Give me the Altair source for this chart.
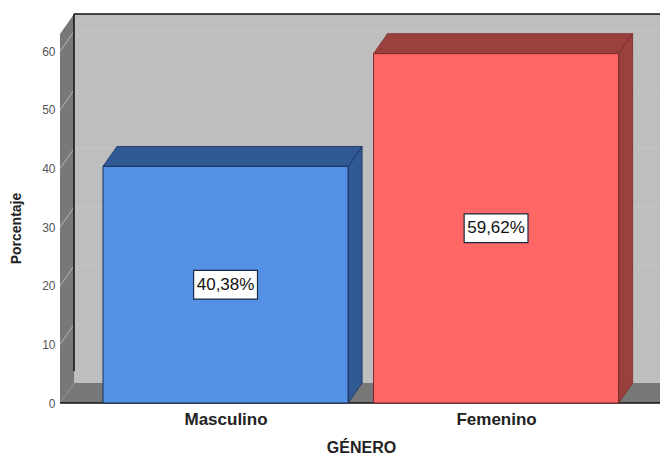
import altair as alt
import pandas as pd

categories = ["Masculino", "Femenino"]
values = [40.38, 59.62]
labels = ["40,38%", "59,62%"]
y_ticks = [0, 10, 20, 30, 40, 50, 60]

# chart geometry in data units: one x unit = one category step
X0, X1 = -0.612, 1.606
Y1 = 66.38
HALF = 0.453
DX, DY = 0.0518, 3.4
BOX_W, BOX_H = 0.118, 2.45

front = ["#5490E3", "#FF6666"]
side = ["#315A94", "#9A4140"]
edge = ["#17305A", "#7A2A2A"]

xs = alt.Scale(domain=[X0, X1], nice=False, zero=False)
ys = alt.Scale(domain=[0, Y1], nice=False, zero=False)

label_expr = f"datum.value == 0 ? '{categories[0]}' : '{categories[1]}'"
x_axis = alt.Axis(title="GÉNERO", values=[0, 1], labelExpr=label_expr, grid=False, domain=False, ticks=False,
                  labelFont="Liberation Sans", labelFontWeight="bold", labelFontSize=17,
                  labelColor="#222222", labelPadding=8,
                  titleFont="Liberation Sans", titleFontWeight="bold", titleFontSize=16,
                  titleColor="#222222", titlePadding=12, titleX=301)
y_axis = alt.Axis(title="Porcentaje", values=y_ticks, grid=False, domain=False, ticks=False,
                  labelFont="Liberation Sans", labelFontSize=12, labelColor="#555555", labelPadding=5,
                  titleFont="Liberation Sans", titleFontWeight="bold", titleFontSize=14,
                  titleColor="#222222", titlePadding=18, titleY=214)

X = lambda f: alt.X(f, type="quantitative", scale=xs, axis=x_axis)
Y = lambda f: alt.Y(f, type="quantitative", scale=ys, axis=y_axis)

wall = alt.Chart(pd.DataFrame({"x": [X0 + DX], "x2": [X1 + DX], "y": [DY], "y2": [Y1]})).mark_rect(
    color="#BEBEBE", clip=True
).encode(x=X("x"), x2="x2:Q", y=Y("y"), y2="y2:Q")

grid_back = alt.Chart(pd.DataFrame({"v": [t + DY for t in y_ticks[1:]], "a": [X0 + DX] * 6, "b": [X1 + DX] * 6})).mark_rule(
    color="#C5C5C5", strokeWidth=1, clip=True
).encode(x=X("a"), x2="b:Q", y=Y("v"))

left_wall = alt.Chart(pd.DataFrame({"x": [X0, X0 + DX], "y": [0, DY], "y2": [Y1 - DY, Y1]})).mark_area(
    color="#787878", clip=True
).encode(x=X("x"), y=Y("y"), y2="y2:Q")

floor = alt.Chart(pd.DataFrame({"y": [0, DY], "x": [X0, X0 + DX], "x2": [X1 + DX, X1 + 2 * DX]})).mark_area(
    color="#787878", orient="horizontal", clip=True
).encode(y=Y("y"), x=X("x"), x2="x2:Q")

grid_rows = []
for t in y_ticks[1:]:
    grid_rows += [{"t": t, "x": X0, "y": t}, {"t": t, "x": X0 + DX, "y": t + DY}]
grid_left = alt.Chart(pd.DataFrame(grid_rows)).mark_line(color="#B4B4B4", strokeWidth=1, clip=True).encode(
    x=X("x"), y=Y("y"), detail="t:N"
)

back_line_v = alt.Chart(pd.DataFrame({"x": [X0 + DX], "a": [DY + 2], "b": [Y1]})).mark_rule(
    color="#111111", strokeWidth=1.5
).encode(x=X("x"), y=Y("a"), y2="b:Q")
back_line_h = alt.Chart(pd.DataFrame({"y": [Y1], "a": [X0 + DX], "b": [X1]})).mark_rule(
    color="#111111", strokeWidth=1.5
).encode(y=Y("y"), x=X("a"), x2="b:Q")
base_line = alt.Chart(pd.DataFrame({"y": [0], "a": [X0], "b": [X1]})).mark_rule(
    color="#111111", strokeWidth=1.5
).encode(y=Y("y"), x=X("a"), x2="b:Q")

layers = [wall, grid_back, left_wall, floor, grid_left, back_line_v, back_line_h, base_line]

for i, v in enumerate(values):
    l, r = i - HALF, i + HALF
    layers.append(alt.Chart(pd.DataFrame({"x": [r, r + DX], "y": [0, DY], "y2": [v, v + DY]})).mark_area(
        color=side[i], stroke=edge[i], strokeWidth=0.8
    ).encode(x=X("x"), y=Y("y"), y2="y2:Q"))
    layers.append(alt.Chart(pd.DataFrame({"y": [v, v + DY], "x": [l, l + DX], "x2": [r, r + DX]})).mark_area(
        color=side[i], stroke=edge[i], strokeWidth=0.8, orient="horizontal"
    ).encode(y=Y("y"), x=X("x"), x2="x2:Q"))
    layers.append(alt.Chart(pd.DataFrame({"x": [l], "x2": [r], "y": [0], "y2": [v]})).mark_rect(
        color=front[i], stroke=edge[i], strokeWidth=1
    ).encode(x=X("x"), x2="x2:Q", y=Y("y"), y2="y2:Q"))
    layers.append(alt.Chart(pd.DataFrame({
        "x": [i - BOX_W], "x2": [i + BOX_W], "y": [v / 2 - BOX_H], "y2": [v / 2 + BOX_H]
    })).mark_rect(color="#FFFFFF", stroke="#1A2A40", strokeWidth=1.2).encode(
        x=X("x"), x2="x2:Q", y=Y("y"), y2="y2:Q"))
    layers.append(alt.Chart(pd.DataFrame({"x": [i], "y": [v / 2], "t": [labels[i]]})).mark_text(
        font="Liberation Sans", fontSize=17, color="#111111", align="center", baseline="middle"
    ).encode(x=X("x"), y=Y("y"), text="t:N"))

chart = alt.layer(*layers).properties(
    width=600, height=389,
    autosize=alt.AutoSizeParams(type="none"),
    padding={"left": 52, "top": 6, "right": 0, "bottom": 55},
    background="#FFFFFF",
).configure_view(stroke=None)

chart.save("out.html", embed_options={"renderer": "svg", "actions": False})
